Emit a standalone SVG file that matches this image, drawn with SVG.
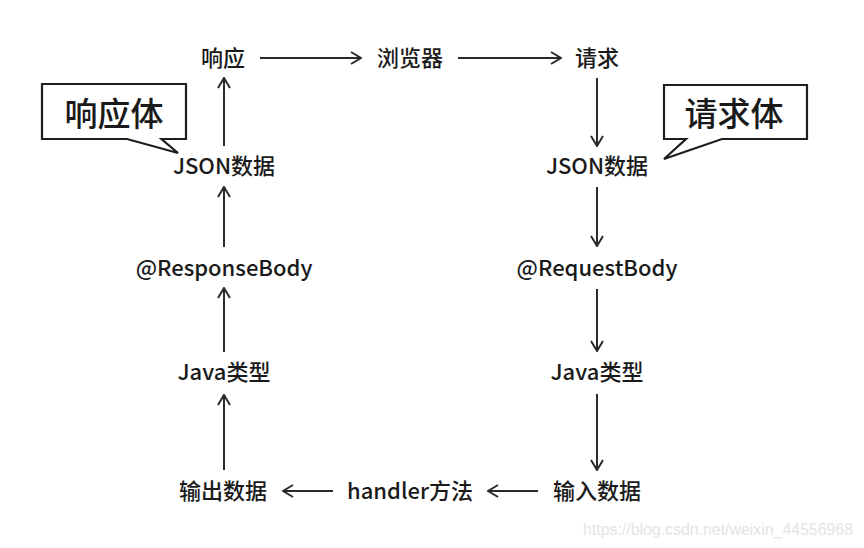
<svg xmlns="http://www.w3.org/2000/svg" width="864" height="548" viewBox="0 0 864 548">
<style>
.t{font-family:"Noto Sans CJK SC","Microsoft YaHei",sans-serif;font-size:22px;font-weight:500;fill:#1a1a1a;text-anchor:middle}
.big{font-size:33px}
.c{stroke:#2a2a2a;stroke-width:2;fill:none;marker-end:url(#ah)}
.box{fill:#fff;stroke:#1e1e1e;stroke-width:2.2;stroke-linejoin:miter}
.wm{font-family:"Liberation Sans",Arial,sans-serif;font-size:16px;fill:#e4e4e4}
</style>
<defs>
<marker id="ah" viewBox="0 0 12 14" refX="11" refY="7" markerWidth="12" markerHeight="14" markerUnits="userSpaceOnUse" orient="auto">
<path d="M1,1 L11,7 L1,13" fill="none" stroke="#2a2a2a" stroke-width="2"/>
</marker>
</defs>
<rect width="864" height="548" fill="#fff"/>
<g id="connectors">
<line class="c" x1="260" y1="58" x2="361" y2="58"/>
<line class="c" x1="458" y1="58" x2="561" y2="58"/>
<line class="c" x1="597" y1="78" x2="597" y2="146"/>
<line class="c" x1="597" y1="187" x2="597" y2="246"/>
<line class="c" x1="597" y1="289" x2="597" y2="351"/>
<line class="c" x1="597" y1="394" x2="597" y2="470"/>
<line class="c" x1="538" y1="491" x2="488" y2="491"/>
<line class="c" x1="333" y1="491" x2="283" y2="491"/>
<line class="c" x1="224" y1="470" x2="224" y2="395"/>
<line class="c" x1="224" y1="352" x2="224" y2="288"/>
<line class="c" x1="224" y1="247" x2="224" y2="187"/>
<line class="c" x1="224" y1="146" x2="224" y2="78"/>
</g>
<g id="n-response"><text class="t" x="223" y="66">响应</text></g>
<g id="n-browser"><text class="t" x="410" y="66">浏览器</text></g>
<g id="n-request"><text class="t" x="597" y="66">请求</text></g>
<g id="n-json-left"><text class="t" x="224" y="174">JSON数据</text></g>
<g id="n-responsebody"><text class="t" x="224" y="276">@ResponseBody</text></g>
<g id="n-java-left"><text class="t" x="224" y="380">Java类型</text></g>
<g id="n-output"><text class="t" x="223" y="499">输出数据</text></g>
<g id="n-handler"><text class="t" x="410" y="499">handler方法</text></g>
<g id="n-input"><text class="t" x="597" y="499">输入数据</text></g>
<g id="n-json-right"><text class="t" x="597" y="174">JSON数据</text></g>
<g id="n-requestbody"><text class="t" x="597" y="276">@RequestBody</text></g>
<g id="n-java-right"><text class="t" x="597" y="380">Java类型</text></g>
<g id="callout-response">
<path class="box" d="M42,84 H186 V139 H161.5 L178,153 L127,139 H42 Z"/>
<text class="t big" x="114" y="126">响应体</text>
</g>
<g id="callout-request">
<path class="box" d="M664,85 H807 V139 H722 L664,159 L686,139 H664 Z"/>
<text class="t big" x="734" y="126">请求体</text>
</g>
<text class="wm" x="583" y="535" textLength="270" lengthAdjust="spacingAndGlyphs">https://blog.csdn.net/weixin_44556968</text>
</svg>
